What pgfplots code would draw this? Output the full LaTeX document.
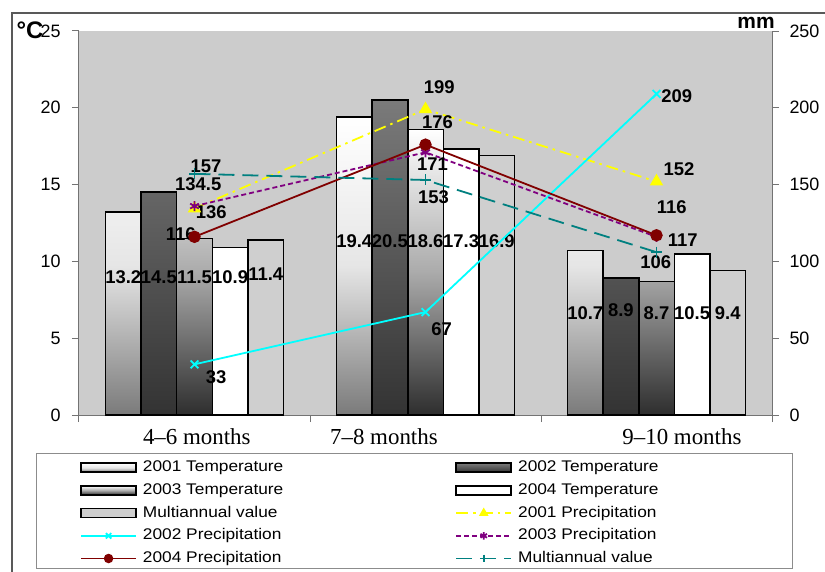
\documentclass[border=0pt]{standalone}
\usepackage{fontspec}
\setmainfont{Liberation Sans}
\newfontfamily\catfont{Liberation Serif}
\newfontfamily\legfont[FakeStretch=1.12]{Liberation Sans}
\usepackage{pgfplots}
\pgfplotsset{compat=1.18}

\definecolor{bggray}{HTML}{CCCCCC}
\definecolor{yel}{HTML}{FFFF00}
\definecolor{cyn}{HTML}{00FFFF}
\definecolor{pur}{HTML}{800080}
\definecolor{dred}{HTML}{800000}
\definecolor{tea}{HTML}{008080}

\pgfplotsset{
  barleg/.style={legend image code/.code={\draw[##1, line width=1.6bp] (0bp,-4.5bp) rectangle (55bp,4.5bp);}},
  lineleg/.style={legend image code/.code={\draw[mark repeat=2, mark phase=2, ##1, mark size=3.8bp] plot coordinates {(0bp,0bp) (27.5bp,0bp) (55bp,0bp)};}},
  % temperature bars
  t01/.style={draw=black, line width=1.6bp, top color=white, bottom color=black!52, middle color=black!10},
  t02/.style={draw=black, line width=1.6bp, top color=black!52, bottom color=black!80},
  t03/.style={draw=black, line width=1.6bp, top color=white, bottom color=black!82, middle color=black!33},
  t04/.style={draw=black, line width=1.6bp, fill=white},
  t05/.style={draw=black, line width=1.6bp, fill=black!19},
  % precipitation lines
  p01/.style={color=yel, line width=1.8bp, dash pattern=on 12bp off 5bp on 2.5bp off 5bp, mark=triangle*, mark size=6bp, mark options={solid, fill=yel}},
  p02/.style={color=cyn, line width=1.8bp, mark=x, mark size=5.5bp, mark options={solid}},
  p03/.style={color=pur, line width=1.8bp, dash pattern=on 5bp off 3bp, mark=asterisk, mark size=5bp, mark options={solid}},
  p04/.style={color=dred, line width=1.8bp, mark=*, mark size=5.3bp, mark options={solid, fill=dred}},
  p05/.style={color=tea, line width=1.8bp, dash pattern=on 16bp off 8bp, mark=+, mark size=5.5bp, mark options={solid}},
  common/.style={
    at={(0bp,0bp)}, anchor=south west,
    scale only axis, width=693bp, height=384bp,
    xmin=-0.5, xmax=2.5, clip=false,
    tick align=outside, major tick length=7bp,
    every tick/.style={black!55, line width=1bp},
    axis line style={black!55, line width=1bp},
    tick label style={font=\fontsize{18}{20}\selectfont, /pgf/number format/assume math mode=true},
  },
}
\tikzset{
  bl/.style={font=\bfseries\fontsize{18.5}{20}\selectfont, inner sep=0pt},
  pl/.style={font=\bfseries\fontsize{18.5}{20}\selectfont, inner sep=0pt},
}

\begin{document}
\begin{tikzpicture}
\useasboundingbox (-79bp,-157bp) rectangle (746bp,415bp);

% temperature (left axis)
\begin{axis}[common,
  ymin=0, ymax=25, ytick={0,5,...,25},
  axis x line*=bottom, axis y line*=left,
  axis background/.style={fill=bggray},
  ybar=0pt, bar width=35.6bp,
  xtick={-0.5,0.5,1.5,2.5}, xticklabels={,,,},
  extra x ticks={0.01,0.82,2.11},
  extra x tick labels={4–6 months,7–8 months,9–10 months},
  extra x tick style={major tick length=0bp,
    tick label style={font=\catfont\fontsize{23}{25}\selectfont, yshift=-10bp}},
  yticklabel style={xshift=-8bp},
]
\addplot[t01] coordinates {(0,13.2) (1,19.4) (2,10.7)};
\addplot[t02] coordinates {(0,14.5) (1,20.5) (2,8.9)};
\addplot[t03] coordinates {(0,11.5) (1,18.6) (2,8.7)};
\addplot[t04] coordinates {(0,10.9) (1,17.3) (2,10.5)};
\addplot[t05] coordinates {(0,11.4) (1,16.9) (2,9.4)};

\node[bl] at (axis cs:-0.3086,8.98) {13.2};
\node[bl] at (axis cs:-0.1543,8.98) {14.5};
\node[bl] at (axis cs:0,8.98) {11.5};
\node[bl] at (axis cs:0.1543,8.98) {10.9};
\node[bl] at (axis cs:0.3086,9.2) {11.4};
\node[bl] at (axis cs:0.6914,11.33) {19.4};
\node[bl] at (axis cs:0.8457,11.33) {20.5};
\node[bl] at (axis cs:1,11.33) {18.6};
\node[bl] at (axis cs:1.1543,11.33) {17.3};
\node[bl] at (axis cs:1.3086,11.33) {16.9};
\node[bl] at (axis cs:1.6914,6.64) {10.7};
\node[bl] at (axis cs:1.8457,6.8) {8.9};
\node[bl] at (axis cs:2,6.64) {8.7};
\node[bl] at (axis cs:2.1543,6.64) {10.5};
\node[bl] at (axis cs:2.3086,6.64) {9.4};
\end{axis}

% precipitation (right axis)
\begin{axis}[common,
  ymin=0, ymax=250, ytick={0,50,...,250},
  axis x line=none, axis y line*=right,
  yticklabel style={xshift=7bp},
  legend columns=2,
  legend cell align=left,
  legend style={at={(0.0014,-0.1120)}, anchor=north west, draw=none, fill=none,
    inner sep=0pt, font=\legfont\fontsize{15.5}{17}\selectfont,
    nodes={inner sep=2bp, text height=11.5bp, text depth=3.5bp},
    row sep=3.7bp,
    /tikz/every odd column/.append style={column sep=4bp},
    /tikz/every even column/.append style={column sep=170bp}},
]
\addlegendimage{t01, barleg}\addlegendentry{2001 Temperature}
\addlegendimage{t02, barleg}\addlegendentry{2002 Temperature}
\addlegendimage{t03, barleg}\addlegendentry{2003 Temperature}
\addlegendimage{t04, barleg}\addlegendentry{2004 Temperature}
\addlegendimage{t05, barleg}\addlegendentry{Multiannual value}

\addplot[p01, lineleg] coordinates {(0,134.5) (1,199) (2,152)};
\addlegendentry{2001 Precipitation}
\addplot[p02, lineleg] coordinates {(0,33) (1,67) (2,209)};
\addlegendentry{2002 Precipitation}
\addplot[p03, lineleg] coordinates {(0,136) (1,171) (2,116)};
\addlegendentry{2003 Precipitation}
\addplot[p04, lineleg] coordinates {(0,116) (1,176) (2,117)};
\addlegendentry{2004 Precipitation}
\addplot[p05, lineleg] coordinates {(0,157) (1,153) (2,106)};
\addlegendentry{Multiannual value}

\node[pl] at (axis cs:0.05,162) {157};
\node[pl] at (axis cs:0.016,150.4) {134.5};
\node[pl] at (axis cs:0.072,132.2) {136};
\node[pl] at (axis cs:-0.06,117.8) {116};
\node[pl] at (axis cs:0.094,24.7) {33};
\node[pl] at (axis cs:1.06,213.5) {199};
\node[pl] at (axis cs:1.052,190.8) {176};
\node[pl] at (axis cs:1.03,163.4) {171};
\node[pl] at (axis cs:1.035,141.9) {153};
\node[pl] at (axis cs:1.07,56) {67};
\node[pl] at (axis cs:2.088,207.7) {209};
\node[pl] at (axis cs:2.097,160.2) {152};
\node[pl] at (axis cs:2.066,135.4) {116};
\node[pl] at (axis cs:2.114,113.9) {117};
\node[pl] at (axis cs:1.997,99.6) {106};
\end{axis}

\node[font=\bfseries\fontsize{24}{26}\selectfont, inner sep=0pt] at (-49bp,385bp) {°C};
\node[font=\bfseries\fontsize{21}{23}\selectfont, inner sep=0pt] at (677bp,392bp) {mm};
\draw[black!65, line width=1.3bp] (-67bp,-160bp) -- (-67bp,402bp) -- (750bp,402bp);
\draw[black!45, line width=1bp] (-42bp,-38bp) rectangle (713bp,-153bp);
\end{tikzpicture}
\end{document}
